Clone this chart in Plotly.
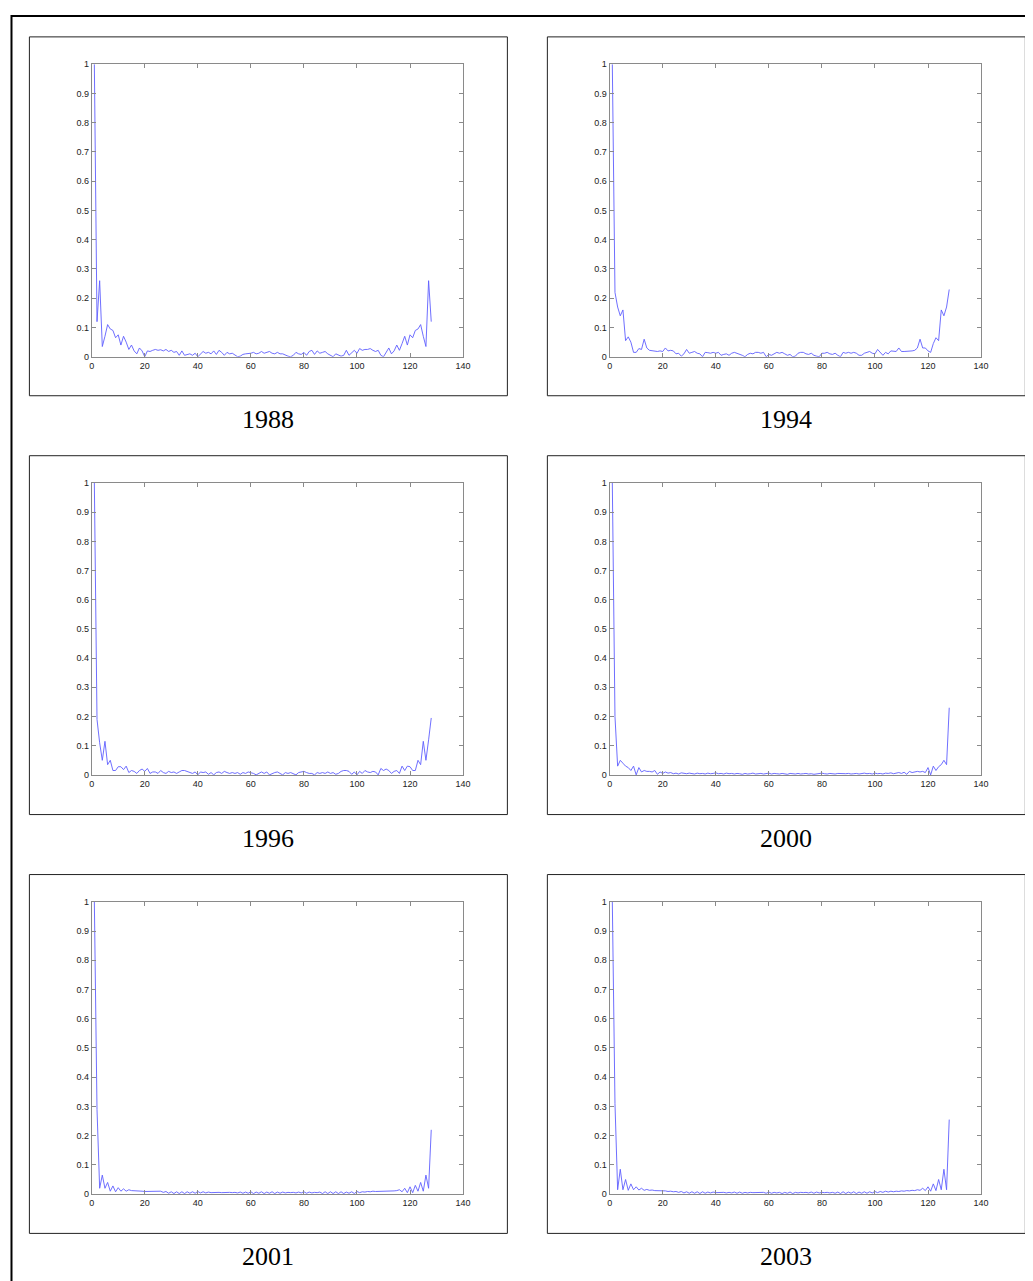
import plotly.graph_objects as go

W, H = 1033, 1281
# measured placement of the figure inside the photographed page
PAGE_OX, PAGE_OY = 10.6, 12.1
PAGE_SX, PAGE_SY = 0.9894, 0.9926

years = ["1988", "1994", "1996", "2000", "2001", "2003"]
x_index = list(range(1, 129))
x_ticks = [0, 20, 40, 60, 80, 100, 120, 140]
y_ticks = [0, 0.1, 0.2, 0.3, 0.4, 0.5, 0.6, 0.7, 0.8, 0.9, 1]
y_ticktext = ["0", "0.1", "0.2", "0.3", "0.4", "0.5", "0.6", "0.7", "0.8", "0.9", "1"]

y1988 = [
    1.0, 0.12, 0.26, 0.035, 0.07, 0.11, 0.095, 0.09, 0.065, 0.075,
    0.04, 0.07, 0.05, 0.025, 0.04, 0.02, 0.01, 0.03, 0.02, 0.0,
    0.02, 0.018, 0.022, 0.025, 0.022, 0.024, 0.02, 0.025, 0.018, 0.022,
    0.015, 0.018, 0.005, 0.02, 0.005, 0.008, 0.01, 0.005, 0.012, 0.0,
    0.01, 0.018, 0.012, 0.015, 0.01, 0.02, 0.008, 0.022, 0.015, 0.005,
    0.015, 0.01, 0.012, 0.005, 0.0, 0.002, 0.008, 0.01, 0.01, 0.012,
    0.015, 0.01, 0.012, 0.018, 0.012, 0.015, 0.018, 0.012, 0.01, 0.015,
    0.01, 0.01, 0.005, 0.002, 0.0, 0.005, 0.015, 0.01, 0.008, 0.015,
    0.005, 0.018, 0.022, 0.008, 0.02, 0.012, 0.015, 0.018, 0.01, 0.005,
    0.0, 0.01, 0.005, 0.002, 0.005, 0.022, 0.005, 0.015, 0.022, 0.012,
    0.028, 0.022, 0.025, 0.025, 0.028, 0.022, 0.018, 0.022, 0.005, 0.0,
    0.015, 0.03, 0.01, 0.02, 0.04, 0.022, 0.045, 0.07, 0.04, 0.075,
    0.065, 0.09, 0.095, 0.11, 0.07, 0.035, 0.26, 0.12,
]

y1994 = [
    1.0, 0.22, 0.17, 0.14, 0.16, 0.055, 0.068, 0.05, 0.015, 0.015,
    0.028, 0.025, 0.06, 0.03, 0.022, 0.02, 0.02, 0.018, 0.02, 0.018,
    0.03, 0.02, 0.022, 0.02, 0.01, 0.012, 0.002, 0.01, 0.025, 0.012,
    0.015, 0.018, 0.012, 0.01, 0.0, 0.015, 0.014, 0.012, 0.015, 0.012,
    0.015, 0.005, 0.008, 0.01, 0.005, 0.012, 0.015, 0.012, 0.01, 0.005,
    0.0, 0.008, 0.012, 0.01, 0.015, 0.015, 0.012, 0.015, 0.0, 0.008,
    0.005, 0.01, 0.015, 0.012, 0.015, 0.01, 0.005, 0.008, 0.0, 0.002,
    0.012, 0.015, 0.015, 0.01, 0.008, 0.012, 0.005, 0.002, 0.0, 0.012,
    0.012, 0.015, 0.01, 0.008, 0.012, 0.005, 0.0, 0.015, 0.012, 0.015,
    0.012, 0.015, 0.012, 0.005, 0.005, 0.012, 0.015, 0.018, 0.012, 0.01,
    0.025, 0.015, 0.005, 0.015, 0.01, 0.02, 0.02, 0.018, 0.03, 0.018,
    0.018, 0.018, 0.02, 0.02, 0.022, 0.03, 0.06, 0.03, 0.03, 0.02,
    0.015, 0.045, 0.065, 0.055, 0.16, 0.14, 0.17, 0.23,
]

y1996 = [
    1.0, 0.19, 0.11, 0.05, 0.115, 0.035, 0.05, 0.015, 0.015, 0.028,
    0.028, 0.018, 0.03, 0.008, 0.015, 0.012, 0.005, 0.015, 0.02, 0.012,
    0.022, 0.005, 0.01, 0.01, 0.005, 0.015, 0.008, 0.005, 0.012, 0.008,
    0.01, 0.005, 0.01, 0.015, 0.015, 0.012, 0.008, 0.005, 0.01, 0.0,
    0.01, 0.008, 0.01, 0.002, 0.008, 0.0, 0.008, 0.01, 0.005, 0.012,
    0.008, 0.005, 0.008, 0.005, 0.008, 0.002, 0.008, 0.005, 0.01, 0.008,
    0.005, 0.0, 0.005, 0.01, 0.005, 0.01, 0.0, 0.005, 0.008, 0.01,
    0.005, 0.0, 0.008, 0.005, 0.008, 0.005, 0.0, 0.008, 0.01, 0.012,
    0.008, 0.005, 0.005, 0.0, 0.008, 0.005, 0.008, 0.005, 0.01, 0.005,
    0.008, 0.002, 0.005, 0.012, 0.015, 0.015, 0.012, 0.002, 0.01, 0.0,
    0.012, 0.005, 0.015, 0.01, 0.008, 0.012, 0.01, 0.0, 0.022, 0.015,
    0.02, 0.015, 0.005, 0.012, 0.015, 0.005, 0.03, 0.015, 0.03, 0.028,
    0.015, 0.015, 0.05, 0.035, 0.115, 0.05, 0.12, 0.195,
]

y2000 = [
    1.0, 0.2, 0.03, 0.05, 0.04, 0.03, 0.025, 0.015, 0.03, 0.0,
    0.025, 0.01, 0.015, 0.012, 0.012, 0.01, 0.015, 0.002, 0.01, 0.005,
    0.01, 0.006, 0.008, 0.004, 0.006, 0.003, 0.007, 0.005, 0.004, 0.006,
    0.005, 0.003, 0.006, 0.004, 0.005, 0.003, 0.006, 0.004, 0.005, 0.007,
    0.004, 0.005, 0.003, 0.006, 0.004, 0.005, 0.003, 0.005, 0.004, 0.002,
    0.005, 0.003, 0.004, 0.006, 0.003, 0.004, 0.005, 0.003, 0.004, 0.006,
    0.003, 0.005, 0.004, 0.003, 0.005, 0.004, 0.002, 0.005, 0.004, 0.003,
    0.005, 0.003, 0.004, 0.005, 0.003, 0.004, 0.002, 0.004, 0.005, 0.006,
    0.004, 0.003, 0.005, 0.004, 0.003, 0.005, 0.004, 0.003, 0.004, 0.005,
    0.003, 0.004, 0.005, 0.003, 0.004, 0.006, 0.004, 0.005, 0.003, 0.006,
    0.004, 0.005, 0.003, 0.006, 0.005, 0.007, 0.004, 0.006, 0.008, 0.005,
    0.009, 0.002, 0.012, 0.008, 0.01, 0.012, 0.01, 0.012, 0.008, 0.025,
    0.0, 0.03, 0.015, 0.028, 0.035, 0.05, 0.035, 0.23,
]

y2001 = [
    1.0, 0.29, 0.02, 0.065, 0.02, 0.04, 0.01, 0.028, 0.008, 0.022,
    0.01, 0.018, 0.01, 0.015, 0.012, 0.012, 0.011, 0.01, 0.01, 0.009,
    0.009, 0.008, 0.008, 0.008, 0.008, 0.01, 0.006, 0.009, 0.003, 0.008,
    0.002, 0.008, 0.002, 0.008, 0.002, 0.008, 0.003, 0.008, 0.003, 0.009,
    0.004, 0.008, 0.004, 0.007, 0.005, 0.006, 0.005, 0.006, 0.005, 0.006,
    0.005, 0.006, 0.005, 0.006, 0.004, 0.007, 0.003, 0.007, 0.003, 0.008,
    0.002, 0.007, 0.003, 0.008, 0.002, 0.007, 0.003, 0.008, 0.002, 0.007,
    0.003, 0.007, 0.004, 0.006, 0.005, 0.006, 0.004, 0.007, 0.004, 0.008,
    0.003, 0.007, 0.004, 0.006, 0.005, 0.007, 0.002, 0.008, 0.002, 0.008,
    0.002, 0.008, 0.002, 0.008, 0.002, 0.007, 0.003, 0.008, 0.002, 0.009,
    0.005, 0.008, 0.007, 0.009, 0.008, 0.01, 0.009, 0.009, 0.009, 0.009,
    0.01, 0.01, 0.011, 0.011, 0.012, 0.015, 0.008, 0.02, 0.005, 0.025,
    0.005, 0.03, 0.01, 0.04, 0.01, 0.065, 0.02, 0.22,
]

y2003 = [
    1.0, 0.31, 0.015, 0.085, 0.015, 0.05, 0.013, 0.035, 0.015, 0.025,
    0.014, 0.02, 0.013, 0.016, 0.013, 0.014, 0.012, 0.012, 0.011, 0.01,
    0.011, 0.009, 0.01, 0.008, 0.009, 0.006, 0.009, 0.004, 0.008, 0.003,
    0.008, 0.003, 0.008, 0.002, 0.008, 0.003, 0.007, 0.004, 0.007, 0.005,
    0.006, 0.005, 0.006, 0.004, 0.006, 0.004, 0.007, 0.003, 0.007, 0.003,
    0.006, 0.004, 0.006, 0.005, 0.005, 0.006, 0.004, 0.006, 0.003, 0.007,
    0.003, 0.006, 0.004, 0.006, 0.002, 0.006, 0.003, 0.007, 0.002, 0.006,
    0.004, 0.006, 0.005, 0.006, 0.004, 0.007, 0.003, 0.007, 0.004, 0.006,
    0.005, 0.006, 0.004, 0.006, 0.003, 0.007, 0.002, 0.008, 0.002, 0.007,
    0.003, 0.008, 0.002, 0.007, 0.003, 0.008, 0.003, 0.008, 0.004, 0.009,
    0.005, 0.009, 0.006, 0.01, 0.007, 0.01, 0.008, 0.01, 0.009, 0.011,
    0.01, 0.012, 0.011, 0.013, 0.012, 0.015, 0.013, 0.02, 0.012, 0.025,
    0.01, 0.035, 0.012, 0.05, 0.015, 0.085, 0.015, 0.255,
]

series = [y1988, y1994, y1996, y2000, y2001, y2003]
for s in series:
    assert len(s) == 128, len(s)

# layout geometry in target picture pixels
col_plot_x = [(91.3, 462.7), (609.3, 980.7)]
row_plot_y = [(63.3, 356.0), (482.3, 774.3), (901.3, 1193.7)]
col_box_x = [(29, 507), (547, 1025)]
row_box_y = [(36, 395), (455, 814), (874, 1233)]
label_y = [419, 838, 1256]


def px(x):
    return max((x - PAGE_OX) / PAGE_SX, 0.5) / W


def py(y):
    return 1 - max((y - PAGE_OY) / PAGE_SY, 0.5) / H


fig = go.Figure()
layout = dict(
    width=W, height=H, autosize=False,
    margin=dict(l=0, r=0, t=0, b=0),
    paper_bgcolor="white", plot_bgcolor="white",
    showlegend=False,
)
shapes = []
annotations = []

for i, (year, ys) in enumerate(zip(years, series)):
    r, c = divmod(i, 2)
    n = i + 1
    xa = "xaxis" if n == 1 else f"xaxis{n}"
    ya = "yaxis" if n == 1 else f"yaxis{n}"
    xr = "x" if n == 1 else f"x{n}"
    yr = "y" if n == 1 else f"y{n}"
    fig.add_trace(go.Scatter(
        x=x_index, y=ys, mode="lines", xaxis=xr, yaxis=yr,
        line=dict(color="rgb(95,95,255)", width=0.9),
        hoverinfo="skip",
    ))
    common = dict(
        showgrid=False, zeroline=False, showline=True,
        linecolor="#8a8a8a", linewidth=1,
        ticks="inside", ticklen=4, tickwidth=1, tickcolor="#8a8a8a",
        mirror="allticks",
        tickfont=dict(family="Arial, Liberation Sans", size=9, color="#222"),
        fixedrange=True,
    )
    layout[xa] = dict(
        common, domain=[px(col_plot_x[c][0]), px(col_plot_x[c][1])],
        range=[0, 140], tickvals=x_ticks, anchor=yr,
    )
    layout[ya] = dict(
        common, domain=[py(row_plot_y[r][1]), py(row_plot_y[r][0])],
        range=[0, 1], tickvals=y_ticks, ticktext=y_ticktext, anchor=xr,
    )
    bx0, bx1 = col_box_x[c]
    by0, by1 = row_box_y[r]
    shapes.append(dict(
        type="rect", xref="paper", yref="paper",
        x0=px(bx0), x1=px(bx1), y0=py(by1), y1=py(by0),
        line=dict(color="#222", width=1), fillcolor="rgba(0,0,0,0)", layer="below",
    ))
    annotations.append(dict(
        text=year, xref="paper", yref="paper",
        x=px((bx0 + bx1) / 2), y=py(label_y[r]),
        xanchor="center", yanchor="middle", showarrow=False,
        font=dict(family="Liberation Serif, Times New Roman, serif", size=26, color="black"),
    ))

# outer frame
shapes.append(dict(
    type="rect", xref="paper", yref="paper",
    x0=px(9), x1=px(1060), y0=py(1310), y1=py(15),
    line=dict(color="black", width=2), fillcolor="rgba(0,0,0,0)", layer="below",
))

layout["shapes"] = shapes
layout["annotations"] = annotations
fig.update_layout(**layout)
fig.write_html("out.html")
